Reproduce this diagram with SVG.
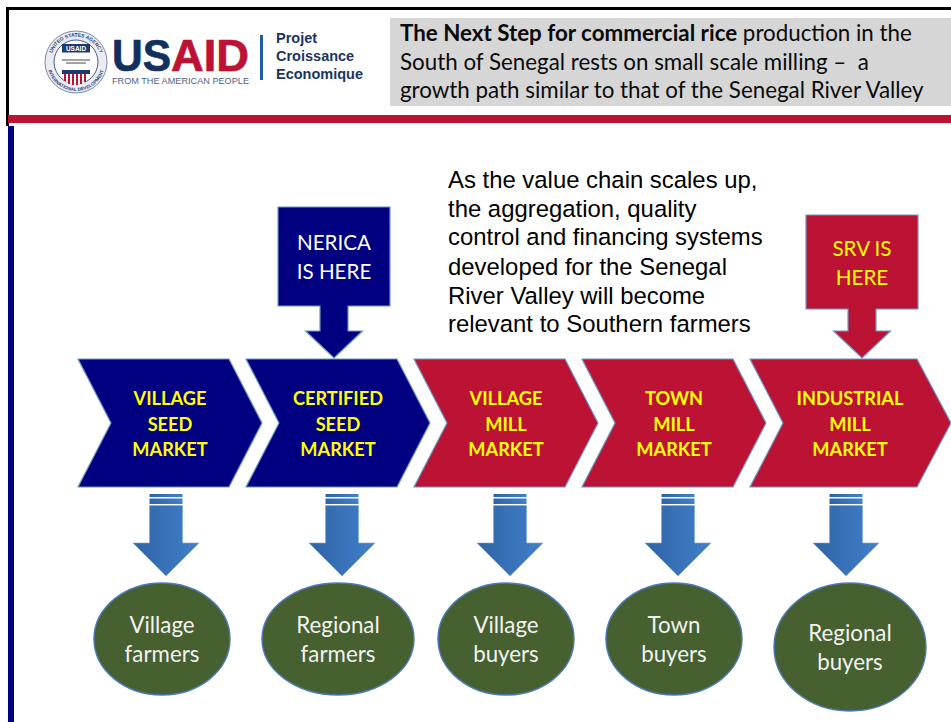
<svg xmlns="http://www.w3.org/2000/svg" width="951" height="722" viewBox="0 0 951 722">
<style>
.cal{font-family:"Lato","Carlito","Liberation Sans",sans-serif}
.ari{font-family:"Liberation Sans",Arial,sans-serif}
.lbl{font-size:18.2px;font-weight:700;fill:#ffff00;text-anchor:middle}
.wht{font-size:22.3px;fill:#f2f2f2;text-anchor:middle}
.cap{font-size:20.6px;text-anchor:middle}
.body{font-size:23.9px;fill:#000}
.head{font-size:22.35px;fill:#0a0a0a}
.blue{fill:#000080;stroke:#6f94c4;stroke-width:1.2}
.red{fill:#bc1335;stroke:#6f94c4;stroke-width:1.2}
.oval{fill:#46602f;stroke:#4a7ab8;stroke-width:1.4}
</style>
<defs>
<linearGradient id="arr" x1="0" x2="1" y1="0" y2="0"><stop offset="0" stop-color="#2f64a4"/><stop offset="1" stop-color="#4180cc"/></linearGradient>
<path id="ringTop" d="M50.500 62A25.500 25.500 0 0 1 101.500 62"/>
<path id="ringBot" d="M47 62A29 29 0 0 0 105 62"/>
<g id="down">
<path d="M-16.500 0H16.500V3H-16.500Z" fill="url(#arr)"/>
<path d="M-16.500 4.500H16.500V10H-16.500Z" fill="url(#arr)"/>
<path d="M-16.500 11.500H16.500V49H33L0 82-33 49H-16.500Z" fill="url(#arr)" stroke="#7fa6d8" stroke-width=".6"/></g>
</defs>
<rect width="951" height="722" fill="#fff"/>
<g id="frame">
<rect x="6" y="7" width="945" height="3" fill="#000"/>
<rect x="6" y="7" width="3" height="119" fill="#000"/>
<rect x="8" y="115" width="943" height="8" fill="#bc1335"/>
<rect x="8" y="126" width="6" height="596" fill="#000080"/>
</g>
<g id="logo">
<circle cx="76" cy="62" r="31" fill="#e9ecf2" stroke="#7d8aa6" stroke-width="1"/>
<circle cx="76" cy="62" r="22" fill="#fff" stroke="#46598a" stroke-width="1"/>
<g class="ari" font-size="5" font-weight="700" fill="#2b3f73">
<text text-anchor="middle"><textPath href="#ringTop" startOffset="50%">UNITED STATES AGENCY</textPath></text>
<text text-anchor="middle" font-size="4.600"><textPath href="#ringBot" startOffset="50%">INTERNATIONAL DEVELOPMENT</textPath></text>
</g>
<rect x="62" y="44" width="28" height="8.500" fill="#1f3a70"/>
<text x="76" y="50.800" text-anchor="middle" class="ari" font-size="6.500" font-weight="700" fill="#fff">USAID</text>
<path d="M62 60H90M66 63H86" stroke="#a3a3a3" stroke-width="2"/>
<rect x="62" y="70" width="28" height="4" fill="#1f3a70"/>
<path d="M63 74H89V78Q86 84 76 85Q66 84 63 78Z" fill="#fff"/>
<path d="M65 74V81M69 74V84M73 74V85M77 74V85M81 74V84M85 74V82" stroke="#bc1335" stroke-width="2"/>
<g class="ari" font-size="43.500" font-weight="700" stroke-width=".7">
<text x="112" y="71" fill="#12305f" stroke="#12305f" textLength="59" lengthAdjust="spacingAndGlyphs">US</text>
<text x="171" y="71" fill="#bc1335" stroke="#bc1335" textLength="78" lengthAdjust="spacingAndGlyphs">AID</text>
</g>
<text x="112" y="84" class="ari" font-size="9.500" fill="#4f6285" textLength="137" lengthAdjust="spacingAndGlyphs">FROM THE AMERICAN PEOPLE</text>
<rect x="260" y="35" width="3" height="45" fill="#1d5ea6"/>
<g class="ari" font-size="14.500" font-weight="700" fill="#1b3561">
<text x="276" y="43">Projet</text>
<text x="276" y="61">Croissance</text>
<text x="276" y="79">Economique</text>
</g>
</g>
<g id="headline">
<rect x="390" y="18" width="561" height="88" fill="#d6d6d6"/>
<g class="cal head">
<text x="400" y="41"><tspan font-weight="700">The Next Step for commercial rice</tspan> production in the</text>
<text x="400" y="70" xml:space="preserve">South of Senegal rests on small scale milling –  a</text>
<text x="400" y="98">growth path similar to that of the Senegal River Valley</text>
</g>
</g>
<g id="note" class="ari body">
<text x="448" y="188">As the value chain scales up,</text>
<text x="448" y="217">the aggregation, quality</text>
<text x="448" y="245">control and financing systems</text>
<text x="448" y="275">developed for the Senegal</text>
<text x="448" y="304">River Valley will become</text>
<text x="448" y="332">relevant to Southern farmers</text>
</g>
<g id="callout-nerica">
<path class="blue" d="M278 207H390V306H348V331H362.500L334 358 305.500 331H320V306H278Z"/>
<text class="cal wht cap" x="334" y="250" style="fill:#fff">NERICA</text>
<text class="cal wht cap" x="334" y="279" style="fill:#fff">IS HERE</text>
</g>
<g id="callout-srv">
<path class="red" d="M806 215H918V309H876V331H890.500L862 358 833.500 331H848V309H806Z"/>
<text class="cal cap" x="862" y="256" fill="#ffff00">SRV IS</text>
<text class="cal cap" x="862" y="285" fill="#ffff00">HERE</text>
</g>
<g id="chevron-1">
<path class="blue" d="M78 359H229L262 423 229 487H78L111 423Z"/>
<text class="cal lbl" x="170" y="405">VILLAGE</text><text class="cal lbl" x="170" y="431">SEED</text><text class="cal lbl" x="170" y="456">MARKET</text>
</g>
<g id="chevron-2">
<path class="blue" d="M246 359H397L430 423 397 487H246L279 423Z"/>
<text class="cal lbl" x="338" y="405">CERTIFIED</text><text class="cal lbl" x="338" y="431">SEED</text><text class="cal lbl" x="338" y="456">MARKET</text>
</g>
<g id="chevron-3">
<path class="red" d="M414 359H565L598 423 565 487H414L447 423Z"/>
<text class="cal lbl" x="506" y="405">VILLAGE</text><text class="cal lbl" x="506" y="431">MILL</text><text class="cal lbl" x="506" y="456">MARKET</text>
</g>
<g id="chevron-4">
<path class="red" d="M582 359H733L766 423 733 487H582L615 423Z"/>
<text class="cal lbl" x="674" y="405">TOWN</text><text class="cal lbl" x="674" y="431">MILL</text><text class="cal lbl" x="674" y="456">MARKET</text>
</g>
<g id="chevron-5">
<path class="red" d="M750 359H917L951 423 917 487H750L783 423Z"/>
<text class="cal lbl" x="850" y="405">INDUSTRIAL</text><text class="cal lbl" x="850" y="431">MILL</text><text class="cal lbl" x="850" y="456">MARKET</text>
</g>
<g id="connectors">
<use href="#down" x="166" y="494"/>
<use href="#down" x="342" y="494"/>
<use href="#down" x="510" y="494"/>
<use href="#down" x="678" y="494"/>
<use href="#down" x="846" y="494"/>
</g>
<g id="oval-1"><ellipse class="oval" cx="162" cy="639" rx="68" ry="56"/><text class="cal wht" x="162" y="633">Village</text><text class="cal wht" x="162" y="662">farmers</text></g>
<g id="oval-2"><ellipse class="oval" cx="338" cy="639" rx="76" ry="56"/><text class="cal wht" x="338" y="633">Regional</text><text class="cal wht" x="338" y="662">farmers</text></g>
<g id="oval-3"><ellipse class="oval" cx="506" cy="639" rx="68" ry="56"/><text class="cal wht" x="506" y="633">Village</text><text class="cal wht" x="506" y="662">buyers</text></g>
<g id="oval-4"><ellipse class="oval" cx="674" cy="639" rx="68" ry="56"/><text class="cal wht" x="674" y="633">Town</text><text class="cal wht" x="674" y="662">buyers</text></g>
<g id="oval-5"><ellipse class="oval" cx="850" cy="647" rx="76" ry="64"/><text class="cal wht" x="850" y="641">Regional</text><text class="cal wht" x="850" y="670">buyers</text></g>
</svg>
